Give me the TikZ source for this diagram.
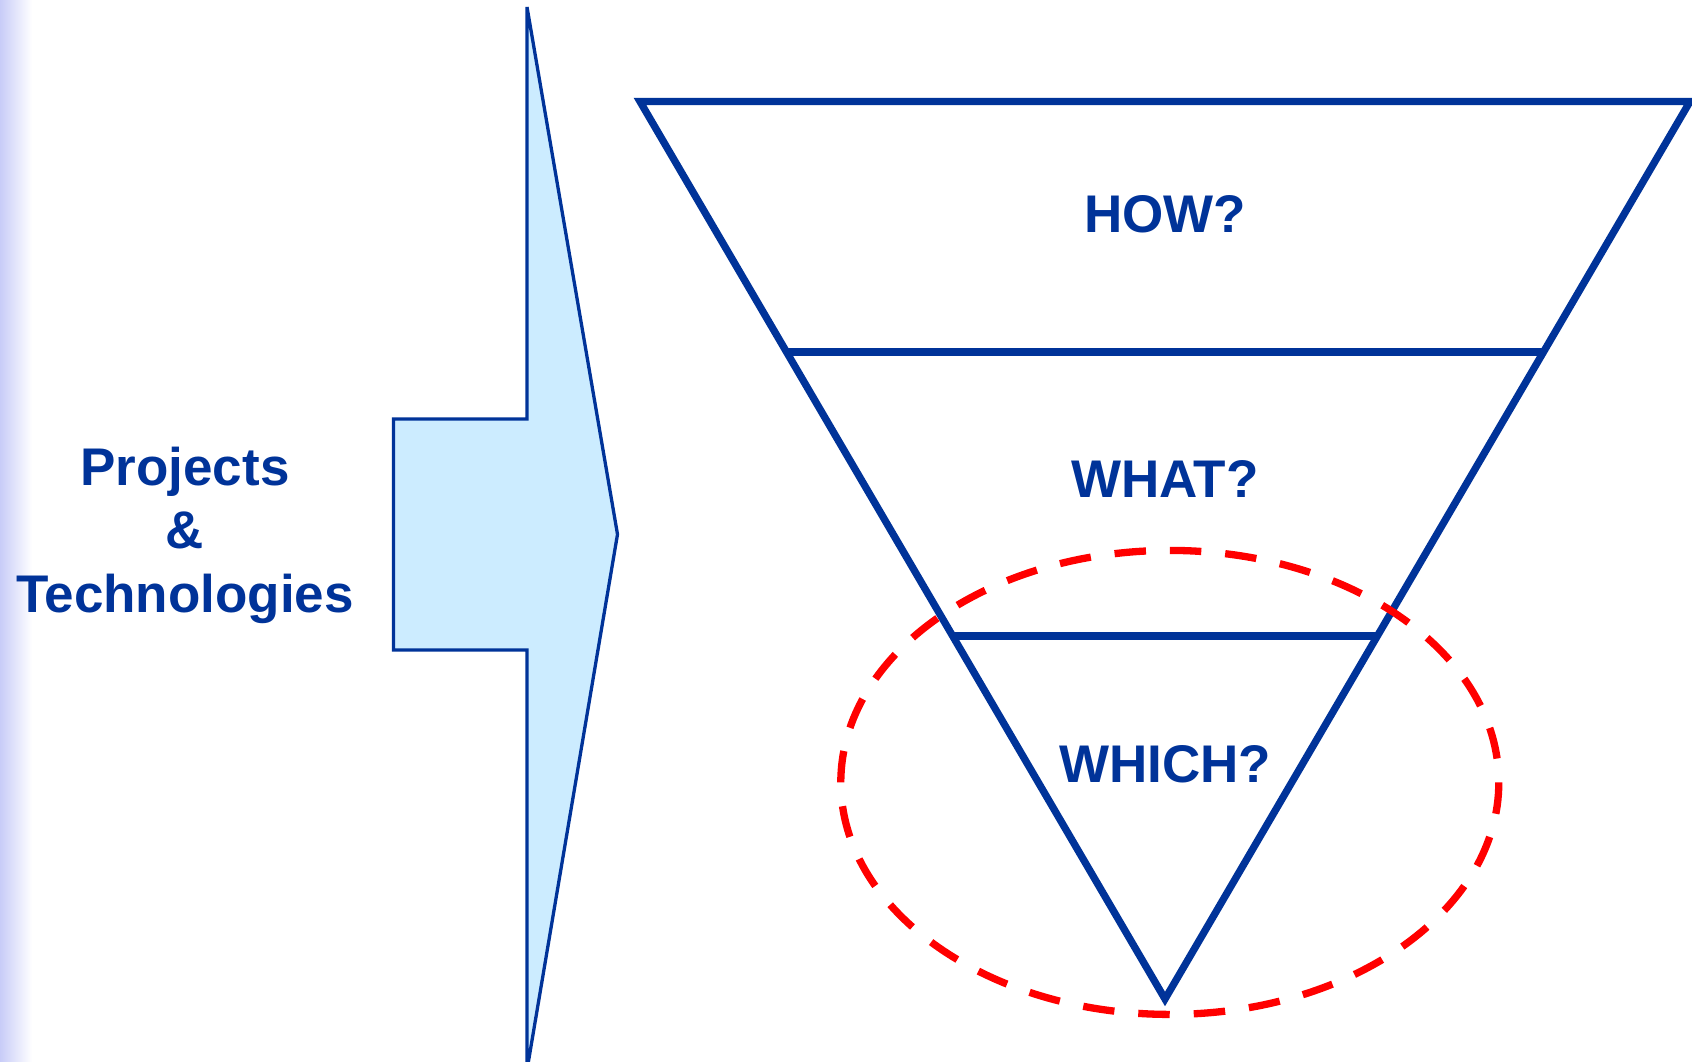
\documentclass[tikz,border=0pt]{standalone}
\usepackage{fontspec}
\setmainfont{Liberation Sans}
\usetikzlibrary{calc}
\definecolor{dblue}{RGB}{0,51,153}
\definecolor{lblue}{RGB}{204,236,255}
\definecolor{edgeblue}{RGB}{200,204,248}
\tikzset{
  lbl/.style={text=dblue, font=\fontsize{53}{64}\selectfont\bfseries, inner sep=0pt, anchor=base},
  funnel/.style={draw=dblue, line width=7.3pt, miter limit=10},
  arrowshape/.style={draw=dblue, fill=lblue, line width=3.3pt},
  ring/.style={draw=red, line width=7.3pt, dash pattern=on 31.5pt off 24pt}
}
\begin{document}
\begin{tikzpicture}[x=1pt,y=-1pt]
\useasboundingbox (0,0) rectangle (1692,1061);
\fill[white] (0,0) rectangle (1692,1061);
\shade[left color=edgeblue, right color=white] (0,0) rectangle (32,1061);

% left arrow
\draw[arrowshape] (527,7) -- (617.5,534.3) -- (527,1070) -- (527,650) -- (393.5,650) -- (393.5,419) -- (527,419) -- cycle;

% labels left
\node[lbl] (p1) at (185,485) {Projects};
\node[lbl] (p2) at (185,548.5) {\&};
\node[lbl] (p3) at (185,612.5) {Technologies};

% funnel
\coordinate (TL) at (640,101.5);
\coordinate (TR) at (1690,101.5);
\coordinate (B) at (1165,999);
\draw[funnel] (TL) -- (TR) -- (B) -- cycle;
\coordinate (L1) at ($(TL)!0.2791!(B)$);
\coordinate (R1) at ($(TR)!0.2791!(B)$);
\coordinate (L2) at ($(TL)!0.5955!(B)$);
\coordinate (R2) at ($(TR)!0.5955!(B)$);
\draw[funnel] (L1) -- (R1);
\draw[funnel] (L2) -- (R2);

\node[lbl] (how) at (1165,232.3) {HOW?};
\node[lbl] (what) at (1165,497.3) {WHAT?};
\node[lbl] (which) at (1165,782.3) {WHICH?};

% dashed ellipse
\coordinate (EC) at (1169.8,782.4);
\draw[ring] ($(EC)+(0,-232)$) arc[start angle=-90, end angle=270, x radius=329, y radius=232];
\end{tikzpicture}
\end{document}
